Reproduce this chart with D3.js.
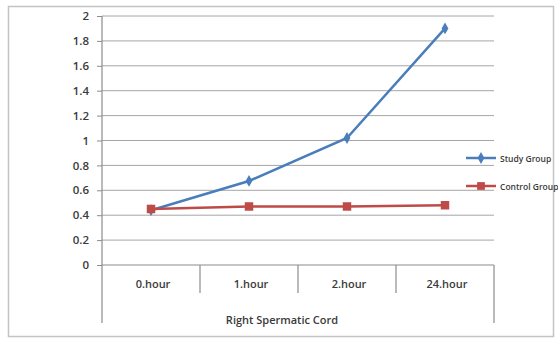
<!DOCTYPE html>
<html>
<head>
<meta charset="utf-8">
<script src="https://cdn.jsdelivr.net/npm/d3@7"></script>
<style>
  body { margin: 0; background: #fff; }
  text { font-family: "Open Sans", "Liberation Sans", sans-serif; fill: #3a3a3a; font-weight: 600; }
</style>
</head>
<body>
<div id="chart"></div>
<script>
const width = 558, height = 338;

// data
const categories = ["0.hour", "1.hour", "2.hour", "24.hour"];
const groupLabel = "Right Spermatic Cord";
const studyGroup = [0.44, 0.675, 1.02, 1.9];
const controlGroup = [0.45, 0.47, 0.47, 0.48];
const yTicks = [0, 0.2, 0.4, 0.6, 0.8, 1, 1.2, 1.4, 1.6, 1.8, 2];

const series = [
  { name: "Study Group", values: studyGroup, color: "#4a7ebb", marker: "diamond" },
  { name: "Control Group", values: controlGroup, color: "#be4b48", marker: "square" }
];

const svg = d3.select("#chart")
  .append("svg")
  .attr("width", width)
  .attr("height", height);

// outer chart border
svg.append("rect")
  .attr("x", 8.5).attr("y", 6.5)
  .attr("width", 545).attr("height", 330)
  .attr("fill", "#fff")
  .attr("stroke", "#c4c4c4")
  .attr("stroke-width", 1.5);

const plot = { left: 102, right: 494, top: 16, bottom: 265 };

const xScale = d3.scaleBand()
  .domain(categories)
  .range([plot.left, plot.right]);

const yScale = d3.scaleLinear()
  .domain([0, 2])
  .range([plot.bottom, plot.top]);

// gridlines
svg.append("g")
  .selectAll("line")
  .data(yTicks.filter(d => d > 0))
  .join("line")
  .attr("x1", plot.left).attr("x2", plot.right)
  .attr("y1", d => yScale(d)).attr("y2", d => yScale(d))
  .attr("stroke", "#a6a6a6")
  .attr("stroke-width", 1);

// left axis
const leftAxis = d3.axisLeft(yScale)
  .tickValues(yTicks)
  .tickSize(5)
  .tickPadding(8)
  .tickFormat(d => String(d));

const yAxisG = svg.append("g")
  .attr("transform", `translate(${plot.left},0)`)
  .call(leftAxis);
yAxisG.select(".domain").remove();
yAxisG.selectAll(".tick line").attr("stroke", "#8c8c8c");
yAxisG.selectAll(".tick text")
  .attr("font-size", 11.5)
  .attr("fill", "#3a3a3a")
  .style("font-family", "'Open Sans', sans-serif")
  .style("font-weight", 600);

// vertical axis line (extends below for multi-level category axis)
svg.append("line")
  .attr("x1", plot.left).attr("x2", plot.left)
  .attr("y1", plot.top).attr("y2", 323)
  .attr("stroke", "#8c8c8c").attr("stroke-width", 1.2);

// horizontal axis line
svg.append("line")
  .attr("x1", plot.left).attr("x2", plot.right)
  .attr("y1", plot.bottom).attr("y2", plot.bottom)
  .attr("stroke", "#8c8c8c").attr("stroke-width", 1.2);

// category separators
svg.append("g")
  .selectAll("line")
  .data(categories.slice(1))
  .join("line")
  .attr("x1", d => xScale(d)).attr("x2", d => xScale(d))
  .attr("y1", plot.bottom).attr("y2", 293)
  .attr("stroke", "#8c8c8c").attr("stroke-width", 1.2);

svg.append("line")
  .attr("x1", plot.right).attr("x2", plot.right)
  .attr("y1", plot.bottom).attr("y2", 323)
  .attr("stroke", "#8c8c8c").attr("stroke-width", 1.2);

// category labels
svg.append("g")
  .selectAll("text")
  .data(categories)
  .join("text")
  .attr("x", d => xScale(d) + xScale.bandwidth() / 2 + 2)
  .attr("y", 288)
  .attr("text-anchor", "middle")
  .attr("font-size", 11)
  .text(d => d);

svg.append("text")
  .attr("x", 282)
  .attr("y", 324)
  .attr("text-anchor", "middle")
  .attr("font-size", 11)
  .text(groupLabel);

// lines
const line = d3.line()
  .x((d, i) => xScale(categories[i]) + xScale.bandwidth() / 2)
  .y(d => yScale(d));

series.forEach(s => {
  svg.append("path")
    .datum(s.values)
    .attr("d", line)
    .attr("fill", "none")
    .attr("stroke", s.color)
    .attr("stroke-width", 2.5);

  const sym = s.marker === "diamond"
    ? d3.symbol().type(d3.symbolDiamond).size(40)
    : d3.symbol().type(d3.symbolSquare).size(72);

  svg.append("g")
    .selectAll("path")
    .data(s.values)
    .join("path")
    .attr("transform", (d, i) =>
      `translate(${xScale(categories[i]) + xScale.bandwidth() / 2},${yScale(d)})`)
    .attr("d", sym)
    .attr("fill", s.color);
});

// legend
const legend = svg.append("g")
  .attr("transform", "translate(466,158)");

series.forEach((s, i) => {
  const g = legend.append("g").attr("transform", `translate(0,${i * 28})`);
  g.append("line")
    .attr("x1", 0).attr("x2", 30)
    .attr("stroke", s.color).attr("stroke-width", 2.5);
  const sym = s.marker === "diamond"
    ? d3.symbol().type(d3.symbolDiamond).size(40)
    : d3.symbol().type(d3.symbolSquare).size(60);
  g.append("path")
    .attr("transform", "translate(15,0)")
    .attr("d", sym)
    .attr("fill", s.color);
  g.append("text")
    .attr("x", 34)
    .attr("y", 3.5)
    .attr("font-size", 8.5)
    .text(s.name);
});
</script>
</body>
</html>
